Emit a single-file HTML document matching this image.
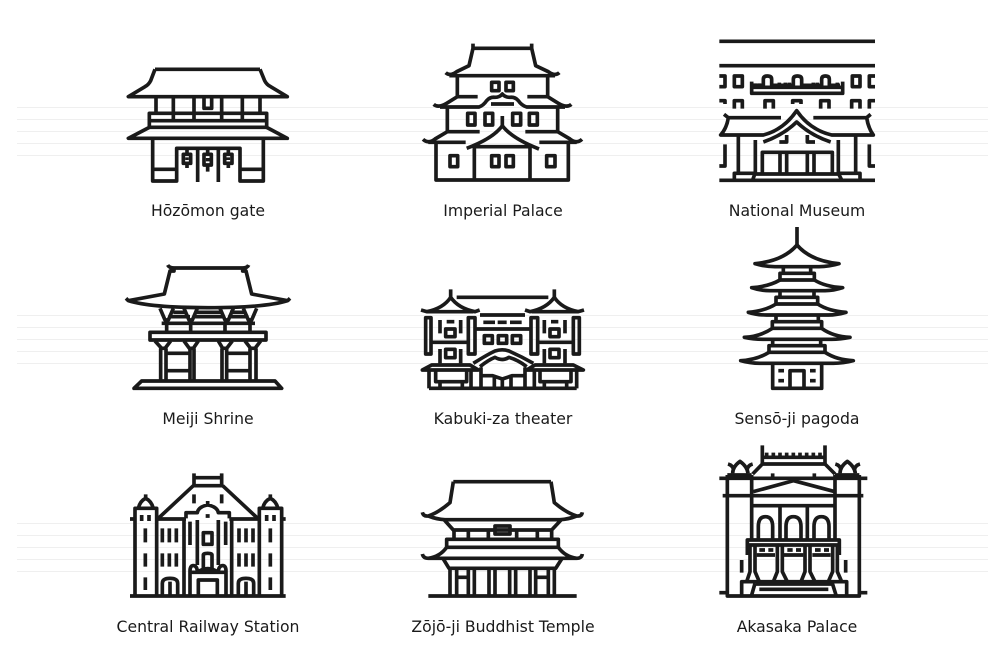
<!DOCTYPE html>
<html><head><meta charset="utf-8"><style>
html,body{margin:0;padding:0;background:#fff;width:1005px;height:669px;overflow:hidden}
svg{display:block}
.i{fill:none;stroke:#1a1a1a;stroke-width:11;stroke-linejoin:round;stroke-linecap:butt}
text{font-family:"DejaVu Sans",sans-serif;font-size:15.65px;fill:#1a1a1a;text-anchor:middle}
.bg{stroke:#efefef;stroke-width:1}
</style></head><body>
<svg width="1005" height="669" viewBox="0 0 1005 669" xmlns="http://www.w3.org/2000/svg">
<g class="bg">
<path d="M17 107.5H988M17 119.5H988M17 131.5H988M17 143.5H988M17 155.5H988"/>
<path d="M17 315.5H988M17 327.5H988M17 339.5H988M17 351.5H988M17 363.5H988"/>
<path d="M17 523.5H988M17 535.5H988M17 547.5H988M17 559.5H988M17 571.5H988"/>
</g>

<!-- Hozomon -->
<g class="i" transform="translate(110,50) scale(.33333)">
<path d="M135 58H450M135 58L122 92Q116 104 105 110L55 140H532L482 110Q470 104 464 92L450 58"/>
<path d="M138 140V190M190 140V212M252 140V212M335 140V212M397 140V212M450 140V190"/>
<path d="M282 145V175H305V145"/>
<path d="M118 190H470V232H118ZM118 212H470"/>
<path d="M118 232L55 265H532L470 232"/>
<path d="M128 265V393H200V295H390V393H460V265M128 358H200M390 358H460M263 300V396M325 300V396"/>
<path d="M231 295V312M293 295V312M355 295V312M231 340V354M293 345V365M355 340V354"/>
<path d="M220 313H242V340H220ZM282 313H304V345H282ZM344 313H366V340H344Z" />
<path d="M231 322V330M293 324V334M355 322V330"/>
</g>

<!-- Imperial -->
<g class="i" transform="translate(405,35) scale(.33333)">
<path d="M204 26V40H380V26M204 40L192 92L155 110Q135 125 122 113M380 40L392 92L430 110Q450 125 463 113M133 122H450"/>
<path d="M157 122V185M428 122V185M157 185H218M367 185H428"/>
<path d="M260 142H282V167H260ZM303 142H325V167H303Z"/>
<path d="M157 185L125 205Q100 220 86 208M428 185L460 205Q485 220 499 208"/>
<path d="M105 216H222Q235 212 245 197Q255 185 270 187Q284 187 292 177Q300 187 315 187Q330 185 340 197Q350 212 365 216H480"/>
<path d="M258 207H327M127 216V290M458 216V290M127 290H224M361 290H458"/>
<path d="M188 235H210V270H188ZM240 235H263V270H240ZM323 235H347V270H323ZM373 235H397V270H373Z"/>
<path d="M127 290L90 312Q70 328 54 313M458 290L495 312Q515 328 531 313M70 322H182M403 322H515"/>
<path d="M292 243V272Q265 310 185 340M292 272Q320 310 402 342M210 335H375"/>
<path d="M93 322V435H490V322M208 335V435M375 335V435"/>
<path d="M135 362H158V395H135ZM260 362H282V395H260ZM303 362H325V395H303ZM425 362H450V395H425Z"/>
</g>

<!-- National Museum -->
<g class="i" transform="translate(700,30) scale(.33333)">
<path d="M58 34H525M58 107H525"/>
<path d="M58 138H75V170H58M525 138H508V170H525M103 138H127V170H103ZM457 138H480V170H457Z"/>
<path d="M155 155V190H428V155M155 172H428"/>
<path d="M165 172V160M178 172V160M165 166H190V148Q190 138 202 138Q215 138 215 148V166H280V148Q280 138 292 138Q305 138 305 148V166H365V148Q365 138 376 138Q388 138 388 148V166H420M238 172V158M256 172V158M268 172V158M340 172V158M352 172V158M412 172V158"/>
<path d="M103 236V212H127V236M195 236V212H220V236M278 222V212H303V222M362 236V212H387V236M455 236V212H480V236M58 212H75V222M525 212H508V236"/>
<path d="M85 263H243M340 263H500M72 253L85 263Q80 295 62 315H190Q250 300 290 242Q330 300 395 315H520Q505 295 500 263L512 253"/>
<path d="M190 336Q250 315 290 276Q330 315 392 336M238 336H260V315M345 336H322V315"/>
<path d="M115 318V430M467 318V430M166 330V430M415 330V430"/>
<path d="M187 430V367H397V430M240 367V430M260 367V430M322 367V430M342 367V430"/>
<path d="M103 450V430H165L158 450M480 450V430H415L425 450M165 432H415M58 451H525"/>
<path d="M75 343V408H58M508 343V408H525"/>
</g>

<!-- Meiji -->
<g class="i" transform="translate(110,255) scale(.33333)">
<path d="M173 30Q178 39 192 39H398Q412 39 416 30M192 39V48H180L163 117L55 137Q120 158 294 158Q468 158 533 137L425 117L408 48H398V39M48 130L55 137M540 130L533 137"/>
<path d="M150 160L165 195H175L190 160M222 160L237 195H247L262 160M330 160L345 195H355L370 160M400 160L415 195H425L440 160"/>
<path d="M190 172H230M260 172H335M360 172H405M175 185H240M250 185H340M355 185H415M155 205H435"/>
<path d="M170 205V232M242 205V232M345 205V232M420 205V232"/>
<path d="M120 232H468V255H120Z"/>
<path d="M135 258L155 280H165L182 258M222 258L238 280H250L265 258M325 258L338 280H350L367 258M405 258L422 280H435L452 258"/>
<path d="M152 280V378M168 280V378M240 280V378M252 280V378M336 280V378M350 280V378M420 280V378M438 280V378"/>
<path d="M168 295H240M350 295H420M168 347H240M350 347H420"/>
<path d="M72 400L95 378H495L515 400Z"/>
</g>

<!-- Kabuki-za -->
<g class="i" transform="translate(405,280) scale(.33333)">
<path d="M137 28V55M448 28V55"/>
<path d="M137 52Q115 85 65 95L48 90M137 52Q160 85 210 95L224 90M448 52Q425 85 375 95L360 90M448 52Q470 85 520 95L537 90M65 95H205M380 95H520"/>
<path d="M155 52H430M225 105H360M235 127H270M278 127H305M315 127H350M210 147H378"/>
<path d="M62 113H78V222H62ZM190 113H210V222H190ZM378 113H398V222H378ZM505 113H523V222H505Z"/>
<path d="M122 147H150V170H122ZM122 208H150V233H122ZM435 147H462V170H435ZM435 208H462V233H435Z"/>
<path d="M105 120V160M167 120V160M125 125H148M105 207V250M167 207V250M78 187H190M418 120V160M480 120V160M438 125H460M418 207V250M480 207V250M398 187H505"/>
<path d="M238 167H262V190H238ZM280 167H305V190H280ZM322 167H347V190H322Z"/>
<path d="M205 250Q250 222 270 213Q292 206 312 213Q350 230 385 250M225 260Q250 240 270 232Q292 245 312 232Q340 240 365 260"/>
<path d="M52 270L80 255H195L220 270H52ZM365 270L390 255H505L535 270H365Z"/>
<path d="M72 325H515M72 272V325M515 272V325M198 272V325M388 272V325"/>
<path d="M92 272V305H185V272M105 305V325M172 305V325M405 272V305H498V272M418 305V325M485 305V325"/>
<path d="M228 262V325M360 262V325M228 287H262L292 297L322 287H360M268 292V325M292 297V325M318 292V325"/>
</g>

<!-- Senso-ji -->
<g class="i" transform="translate(700,225) scale(.33333)">
<path d="M291 6V60"/>
<path d="M291 60Q250 108 165 116Q195 125 225 125H357Q387 125 417 116Q332 108 291 60Z"/>
<path d="M250 125V145M332 125V145M240 145H343V165H240Z"/>
<path d="M240 165Q205 185 155 188Q180 197 210 197H375Q400 197 428 188Q375 185 343 165"/>
<path d="M240 197V217M342 197V217M228 217H353V237H228Z"/>
<path d="M228 237Q195 258 145 262Q170 270 200 270H385Q410 270 438 262Q385 258 353 237"/>
<path d="M228 270V290M355 270V290M217 290H365V310H217Z"/>
<path d="M217 310Q180 335 133 337Q160 343 190 343H395Q420 343 450 337Q400 335 365 310"/>
<path d="M218 343V362M362 343V362M207 362H375V382H207Z"/>
<path d="M207 382Q170 405 122 407Q150 415 180 415H400Q430 415 460 407Q410 405 375 382"/>
<path d="M218 415V490H365V415M270 490V437H312V490M235 437H252M330 437H347M235 467H252M330 467H347"/>
</g>

<!-- Central Railway -->
<g class="i" transform="translate(110,465) scale(.33333)">
<path d="M252 25V62M335 25V62M252 38H335M250 62H338M250 62L145 160M338 62L443 160M252 88V115M335 88V115"/>
<path d="M60 162H75M140 162H228M358 162H448M515 162H527M60 393H527"/>
<path d="M75 393V130H140V393M448 393V130H515V393"/>
<path d="M85 130Q90 108 107 100Q124 108 130 130M107 88V100M458 130Q463 108 481 100Q498 108 504 130M481 88V100"/>
<path d="M95 150V168M117 150V168M106 190V232M106 265V305M106 337V375M470 150V168M492 150V168M481 190V232M481 265V305M481 337V375"/>
<path d="M228 160V143H262Q265 125 293 120Q322 125 325 143H358V160M293 108V120M287 153H299"/>
<path d="M222 165V393M365 165V393M240 170V240M347 170V240M262 165V300M325 165V300"/>
<path d="M280 203H306V238H280ZM280 310V270Q280 265 293 265Q306 265 306 270V310"/>
<path d="M157 190V232M178 190V232M199 190V232M157 265V305M178 265V305M199 265V305M387 190V232M408 190V232M429 190V232M387 265V305M408 265V305M429 265V305"/>
<path d="M157 393V355Q157 340 180 340Q203 340 203 355V393M180 350V393M385 393V355Q385 340 408 340Q431 340 431 355V393M408 350V393"/>
<path d="M240 393V318Q240 300 252 302Q262 305 262 322H325Q325 305 336 302Q348 300 348 318V393M240 322H262Q293 300 325 322H348M265 393V345H322V393"/>
</g>

<!-- Zojo-ji -->
<g class="i" transform="translate(405,470) scale(.33333)">
<path d="M145 35H438M145 35L135 98Q100 128 70 138Q55 140 52 127M438 35L448 98Q483 128 515 138Q530 140 532 127M70 138Q95 148 120 149H465Q490 148 515 138"/>
<path d="M118 150L145 180H440L468 150"/>
<path d="M270 168H315V192H270Z"/>
<path d="M147 180V208M190 180V208M250 180V208M335 180V208M397 180V208M440 180V208"/>
<path d="M125 208H460V232H125Z"/>
<path d="M125 232Q105 260 70 265Q55 265 52 252M460 232Q480 260 515 265Q530 265 532 252M70 265H515"/>
<path d="M115 267L132 295H452L470 267"/>
<path d="M135 295V378M155 295V378M190 295V378M208 295V378M252 295V378M270 295V378M314 295V378M332 295V378M375 295V378M392 295V378M430 295V378M448 295V378M155 322H190M392 322H430"/>
<path d="M70 378H515"/>
</g>

<!-- Akasaka -->
<g class="i" transform="translate(700,440) scale(.33333)">
<path d="M187 16V72H375V16M190 52H372M200 38V50M220 38V50M240 38V50M260 38V50M280 38V50M300 38V50M320 38V50M340 38V50M360 38V50"/>
<path d="M187 72L158 102M375 72L405 102"/>
<path d="M82 105H155M405 105H478M58 115H502M82 105V468H478V105M155 105V300M405 105V300"/>
<path d="M98 100Q98 80 120 64Q142 80 144 100M84 72Q98 76 100 88M158 72Q144 76 142 88"/>
<path d="M420 100Q420 80 442 64Q464 80 466 100M406 72Q420 76 422 88M480 72Q466 76 464 88"/>
<path d="M218 100V115M343 100V115"/>
<path d="M160 155L281 122L405 155M68 167H490M155 197H405M240 197V300M322 197V300"/>
<path d="M175 298V260Q175 230 196 230Q218 230 218 260V298M258 298V260Q258 230 280 230Q303 230 303 260V298M342 298V260Q342 230 364 230Q387 230 387 260V298"/>
<path d="M142 345V300H418V345M142 315H418M170 345H225M252 345H310M337 345H392"/>
<path d="M150 315V395L140 425M165 315V395L178 425M232 315V395L220 425M247 315V395L262 425M315 315V395L303 425M330 315V395L345 425M398 315V395L385 425M412 315V395L425 425"/>
<path d="M178 330H195M205 330H220M262 330H278M288 330H303M345 330H362M372 330H387"/>
<path d="M125 360V398M437 360V398"/>
<path d="M125 468V425H440V468M165 430L155 465M397 430L408 465M168 432H395M178 448H385"/>
<path d="M58 458H82M478 458H502"/>
</g>

<text x="208" y="216">Hōzōmon gate</text>
<text x="503" y="216">Imperial Palace</text>
<text x="797" y="216">National Museum</text>
<text x="208" y="424">Meiji Shrine</text>
<text x="503" y="424">Kabuki-za theater</text>
<text x="797" y="424">Sensō-ji pagoda</text>
<text x="208" y="632">Central Railway Station</text>
<text x="503" y="632">Zōjō-ji Buddhist Temple</text>
<text x="797" y="632">Akasaka Palace</text>
</svg>
</body></html>
